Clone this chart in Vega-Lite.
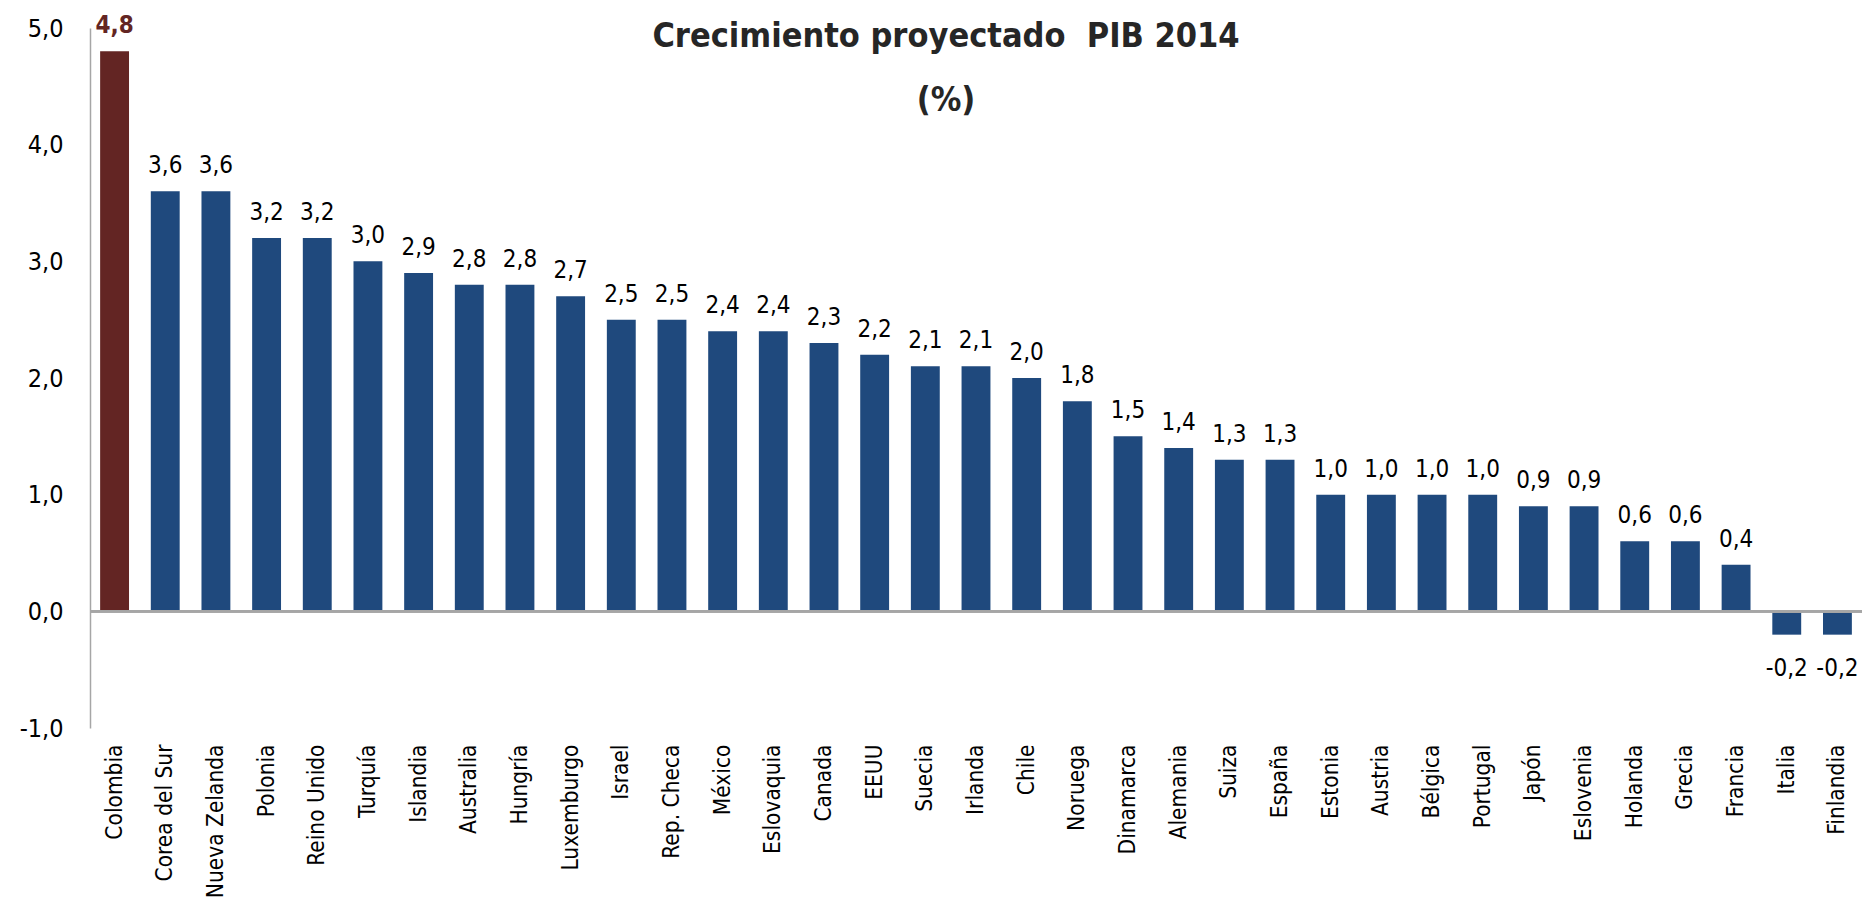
{
  "$schema": "https://vega.github.io/schema/vega-lite/v6.json",
  "width": 1772,
  "height": 700,
  "autosize": {"type": "none"},
  "padding": {"left": 90, "top": 28, "right": 1, "bottom": 172},
  "background": "white",
  "title": {
    "text": ["Crecimiento proyectado \u00a0PIB 2014", "(%)"],
    "font": "DejaVu Sans Condensed, Liberation Sans",
    "fontSize": 34,
    "fontWeight": "bold",
    "color": "#262626",
    "anchor": "middle",
    "offset": -104,
    "lineHeight": 64,
    "dx": -30
  },
  "config": {
    "view": {"stroke": null},
    "font": "DejaVu Sans Condensed, Liberation Sans"
  },
  "data": {
    "values": [
      {"pais": "Colombia", "valor": 4.8, "grupo": "Colombia"},
      {"pais": "Corea del Sur", "valor": 3.6, "grupo": "Otros"},
      {"pais": "Nueva Zelanda", "valor": 3.6, "grupo": "Otros"},
      {"pais": "Polonia", "valor": 3.2, "grupo": "Otros"},
      {"pais": "Reino Unido", "valor": 3.2, "grupo": "Otros"},
      {"pais": "Turquía", "valor": 3.0, "grupo": "Otros"},
      {"pais": "Islandia", "valor": 2.9, "grupo": "Otros"},
      {"pais": "Australia", "valor": 2.8, "grupo": "Otros"},
      {"pais": "Hungría", "valor": 2.8, "grupo": "Otros"},
      {"pais": "Luxemburgo", "valor": 2.7, "grupo": "Otros"},
      {"pais": "Israel", "valor": 2.5, "grupo": "Otros"},
      {"pais": "Rep. Checa", "valor": 2.5, "grupo": "Otros"},
      {"pais": "México", "valor": 2.4, "grupo": "Otros"},
      {"pais": "Eslovaquia", "valor": 2.4, "grupo": "Otros"},
      {"pais": "Canada", "valor": 2.3, "grupo": "Otros"},
      {"pais": "EEUU", "valor": 2.2, "grupo": "Otros"},
      {"pais": "Suecia", "valor": 2.1, "grupo": "Otros"},
      {"pais": "Irlanda", "valor": 2.1, "grupo": "Otros"},
      {"pais": "Chile", "valor": 2.0, "grupo": "Otros"},
      {"pais": "Noruega", "valor": 1.8, "grupo": "Otros"},
      {"pais": "Dinamarca", "valor": 1.5, "grupo": "Otros"},
      {"pais": "Alemania", "valor": 1.4, "grupo": "Otros"},
      {"pais": "Suiza", "valor": 1.3, "grupo": "Otros"},
      {"pais": "España", "valor": 1.3, "grupo": "Otros"},
      {"pais": "Estonia", "valor": 1.0, "grupo": "Otros"},
      {"pais": "Austria", "valor": 1.0, "grupo": "Otros"},
      {"pais": "Bélgica", "valor": 1.0, "grupo": "Otros"},
      {"pais": "Portugal", "valor": 1.0, "grupo": "Otros"},
      {"pais": "Japón", "valor": 0.9, "grupo": "Otros"},
      {"pais": "Eslovenia", "valor": 0.9, "grupo": "Otros"},
      {"pais": "Holanda", "valor": 0.6, "grupo": "Otros"},
      {"pais": "Grecia", "valor": 0.6, "grupo": "Otros"},
      {"pais": "Francia", "valor": 0.4, "grupo": "Otros"},
      {"pais": "Italia", "valor": -0.2, "grupo": "Otros"},
      {"pais": "Finlandia", "valor": -0.2, "grupo": "Otros"}
    ]
  },
  "encoding": {
    "x": {
      "field": "pais",
      "type": "nominal",
      "sort": null,
      "scale": {"paddingInner": 0.43, "paddingOuter": 0.2},
      "axis": {
        "title": null,
        "orient": "bottom",
        "domain": false,
        "ticks": false,
        "labelAngle": -90,
        "labelFontSize": 22.5,
        "labelColor": "#000000",
        "labelPadding": 16,
        "labelFont": "DejaVu Sans Condensed, Liberation Sans"
      }
    },
    "y": {
      "field": "valor",
      "type": "quantitative",
      "scale": {"domain": [-1, 5], "nice": false, "zero": false},
      "axis": {
        "title": null,
        "values": [-1, 0, 1, 2, 3, 4, 5],
        "grid": false,
        "ticks": false,
        "domainColor": "#a6a6a6",
        "domainWidth": 1.5,
        "labelFontSize": 25,
        "labelColor": "#000000",
        "labelPadding": 27,
        "labelFont": "DejaVu Sans Condensed, Liberation Sans",
        "labelExpr": "replace(replace(format(datum.value, '.1f'), '.', ','), '\u2212', '-')"
      }
    }
  },
  "layer": [
    {
      "mark": {"type": "bar"},
      "encoding": {
        "color": {
          "field": "grupo",
          "type": "nominal",
          "scale": {"domain": ["Colombia", "Otros"], "range": ["#632523", "#1f497d"]},
          "legend": null
        }
      }
    },
    {
      "mark": {"type": "rule", "color": "#a6a6a6", "strokeWidth": 2},
      "encoding": {"x": {"value": 0}, "x2": {"value": 1772}, "y": {"datum": 0}}
    },
    {
      "transform": [{"filter": "datum.valor >= 0 && datum.grupo != 'Colombia'"}],
      "mark": {"type": "text", "baseline": "alphabetic", "dy": -18, "fontSize": 24, "color": "#000000", "font": "DejaVu Sans Condensed, Liberation Sans"},
      "encoding": {
        "text": {"field": "lbl", "type": "nominal"}
      }
    },
    {
      "transform": [{"filter": "datum.grupo == 'Colombia'"}],
      "mark": {"type": "text", "baseline": "alphabetic", "dy": -18, "fontSize": 24, "fontWeight": "bold", "color": "#632523", "font": "DejaVu Sans Condensed, Liberation Sans"},
      "encoding": {
        "text": {"field": "lbl", "type": "nominal"}
      }
    },
    {
      "transform": [{"filter": "datum.valor < 0"}],
      "mark": {"type": "text", "baseline": "top", "dy": 22, "fontSize": 24, "color": "#000000", "font": "DejaVu Sans Condensed, Liberation Sans"},
      "encoding": {
        "text": {"field": "lbl", "type": "nominal"}
      }
    }
  ],
  "transform": [
    {"calculate": "replace(replace(format(datum.valor, '.1f'), '.', ','), '\u2212', '-')", "as": "lbl"}
  ]
}
